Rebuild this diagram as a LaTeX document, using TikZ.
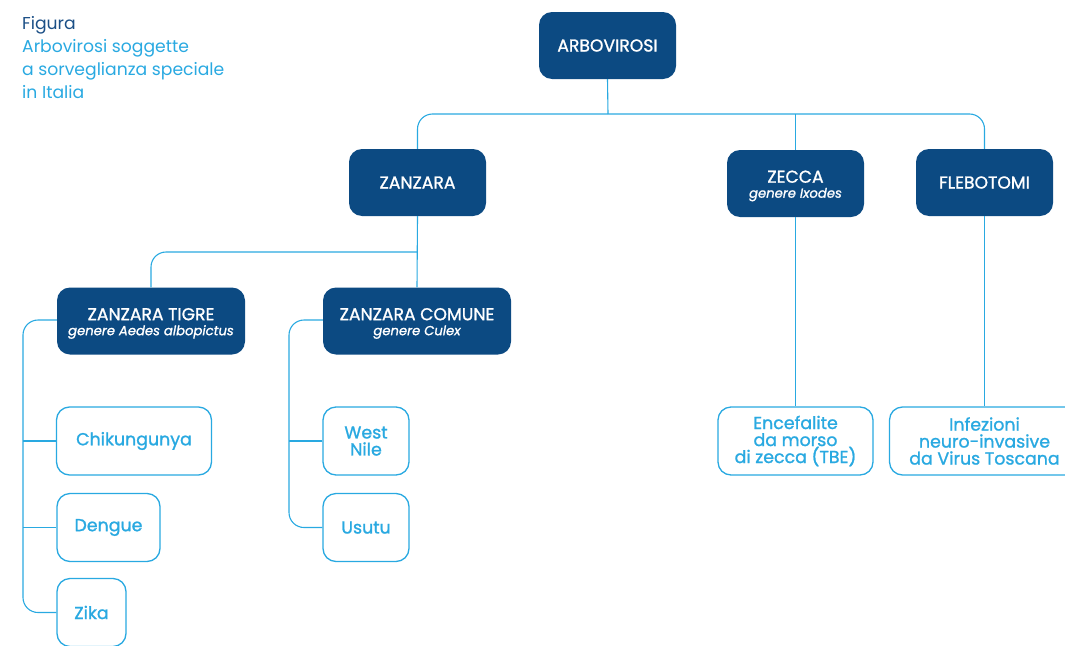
\documentclass[tikz,border=0pt]{standalone}
\usepackage{fontspec}
\setmainfont{Poppins}
\newfontfamily\medfont{Poppins}[FakeBold=1.2]
\definecolor{dkblue}{HTML}{0C4A82}
\definecolor{ltblue}{HTML}{29A9E1}
\definecolor{ttlblue}{HTML}{1B4F86}
\newcommand{\subtxt}[1]{{\fontsize{13.2}{14}\selectfont\itshape #1}}
\newcommand{\topstrut}{\rule{0pt}{17pt}}
\begin{document}
\begin{tikzpicture}[x=1pt,y=-1pt,
  darkbox/.style={fill=dkblue, rounded corners=13pt, text=white, minimum height=67pt, inner sep=0pt, align=center, font=\medfont\fontsize{17.2}{17}\selectfont},
  lightbox/.style={draw=ltblue, line width=1.3pt, fill=white, rounded corners=13pt, text=ltblue, minimum height=68pt, inner sep=0pt, align=center, font=\medfont\fontsize{17.4}{17}\selectfont},
  conn/.style={draw=ltblue, line width=1.1pt, rounded corners=15pt}]
\useasboundingbox (0,0) rectangle (1065,645);
\node[anchor=north west, inner sep=0pt, align=left, font=\fontsize{17.2}{23}\selectfont] (title) at (22,16)
  {\textcolor{ttlblue}{Figura}\\\textcolor{ltblue}{Arbovirosi soggette}\\\textcolor{ltblue}{a sorveglianza speciale}\\\textcolor{ltblue}{in Italia}};
\node[darkbox, minimum width=137pt] (arb) at (607.5,45.5) {ARBOVIROSI};
\node[darkbox, minimum width=137pt] (zanz) at (417.5,182.5) {ZANZARA};
\node[darkbox, minimum width=137pt] (zecca) at (795.5,183.5) {\topstrut ZECCA\\[-2pt]\subtxt{genere Ixodes}};
\node[darkbox, minimum width=137pt] (flebo) at (984.5,182.5) {FLEBOTOMI};
\node[darkbox, minimum width=188pt] (tigre) at (151,321) {\topstrut ZANZARA TIGRE\\[-2pt]\subtxt{genere Aedes albopictus}};
\node[darkbox, minimum width=188pt] (comune) at (417,321) {\topstrut ZANZARA COMUNE\\[-2pt]\subtxt{genere Culex}};
\node[lightbox, minimum width=155pt] (chik) at (134,441) {Chikungunya};
\node[lightbox, minimum width=103pt] (dengue) at (108.5,527.5) {Dengue};
\node[lightbox, minimum width=69pt] (zika) at (91.5,612.5) {Zika};
\node[lightbox, minimum width=86pt] (wn) at (366,441) {West\\Nile};
\node[lightbox, minimum width=86pt] (usutu) at (366,527.5) {Usutu};
\node[lightbox, minimum width=155pt] (tbe) at (795.5,441) {Encefalite\\da morso\\di zecca (TBE)};
\node[lightbox, minimum width=190pt] (tosc) at (984.5,441) {Infezioni\\neuro-invasive\\da Virus Toscana};
\coordinate (h1) at (608,114);
\coordinate (h2) at (417.5,252);
\coordinate (lt) at (23,320);
\coordinate (lc) at (289,320);
\draw[conn] (arb.south) -- (h1);
\draw[conn] (zanz.north) |- (h1) -| (flebo.north);
\draw[conn] (zecca.north) -- (zecca.north |- h1);
\draw[conn] (zanz.south) -- (comune.north);
\draw[conn] (tigre.north) |- (h2);
\draw[conn] (tigre.west |- lt) -- (lt) |- (zika.west);
\draw[conn] (chik.west) -- (chik.west -| lt);
\draw[conn] (dengue.west) -- (dengue.west -| lt);
\draw[conn] (comune.west |- lc) -- (lc) |- (usutu.west);
\draw[conn] (wn.west) -- (wn.west -| lc);
\draw[conn] (zecca.south) -- (tbe.north);
\draw[conn] (flebo.south) -- (tosc.north);
\end{tikzpicture}
\end{document}
